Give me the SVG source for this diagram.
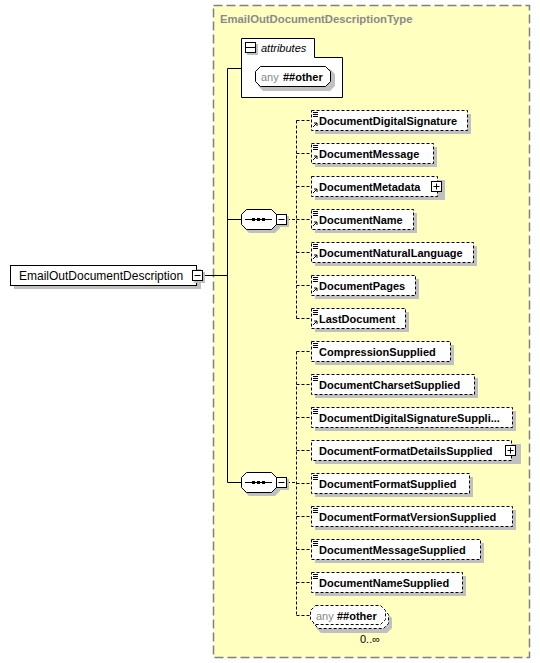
<svg xmlns="http://www.w3.org/2000/svg" width="540" height="663" viewBox="0 0 540 663">
<style>
text{font-family:"Liberation Sans",Arial,sans-serif;font-size:11px;fill:#000}
.b{font-weight:bold}
.g{fill:#888}
.sh{fill:#c0c0c0}
.el{fill:#fff;stroke:#000;stroke-width:1;stroke-dasharray:3,2}
.sol{fill:#fff;stroke:#000;stroke-width:1}
.cn{fill:none;stroke:#000;stroke-width:1}
.cd{fill:none;stroke:#000;stroke-width:1;stroke-dasharray:3,2}
.ic{stroke:#000;stroke-width:1;fill:none}
</style>
<defs>
<g id="lines"><path class="ic" d="M2,2.5h5M2,4.5h5M2,6.5h5"/></g>
<g id="arr"><path class="ic" d="M2,-3L6,-7M3,-7h3v3"/></g>
<g id="minus"><rect class="sh" x="2" y="2" width="11" height="11"/><rect class="sol" x="0.5" y="0.5" width="10" height="10"/><path class="ic" d="M2.5,5.5h6"/></g>
<g id="plus"><rect class="sol" x="0.5" y="0.5" width="10" height="10"/><path class="ic" d="M2.5,5.5h6M5.5,2.5v6"/></g>
</defs>

<!-- type container -->
<g id="type">
<rect x="213.5" y="5.5" width="316" height="652" fill="#ffffc0" stroke="#808080" stroke-width="1.5" stroke-dasharray="9,4"/>
<text x="220" y="23" class="b" style="fill:#8a8a8a;font-size:11.3px">EmailOutDocumentDescriptionType</text>
</g>

<!-- connectors -->
<g id="connectors">
<path class="cn" d="M203,275.5H227.5M227.5,68.5V482.5M227.5,68.5H241M227.5,219.5H241M227.5,482.5H241"/>
<path class="cd" d="M287,219.5H296.5M296.5,120.5V318.5M296.5,120.5H311M296.5,153.5H311M296.5,186.5H311M296.5,252.5H311M296.5,285.5H311M296.5,318.5H311M296.5,219.5H311"/>
<path class="cd" d="M287,482.5H296.5M296.5,351.5V615.5M296.5,351.5H311M296.5,384.5H311M296.5,417.5H311M296.5,450.5H311M296.5,483.5H311M296.5,516.5H311M296.5,549.5H311M296.5,582.5H311M296.5,615.5H310"/>
</g>

<!-- main element -->
<g id="EmailOutDocumentDescription">
<rect class="sh" x="14" y="269" width="187" height="20"/>
<rect class="sol" x="10.5" y="265.5" width="186" height="20"/>
<text x="19" y="280" style="font-size:12px">EmailOutDocumentDescription</text>
<use href="#minus" x="192" y="270"/>
</g>

<!-- attributes -->
<g id="attributes">
<path class="sol" d="M241.5,38.5H314.5V57.5H342.5V97.5H241.5Z"/>
<use href="#minus" x="245" y="42"/>
<path class="ic" d="M246,47.5h10"/>
<text x="261" y="52" font-style="italic">attributes</text>
<path class="sh" d="M263,69H330L335,74V86L330,91H263L258,86V74Z"/>
<path class="sol" d="M260.5,66.5H325.5L330.5,71.5V81.5L325.5,86.5H260.5L255.5,81.5V71.5Z"/>
<text x="261" y="80.5" class="g" style="fill:#888">any</text>
<text x="283" y="80.5" class="b">##other</text>
</g>

<!-- sequence 1 -->
<g id="seq1">
<path class="sh" d="M249,213H275L280,218V228L275,233H249L244,228V218Z"/>
<path class="sol" d="M246.5,209.5H271.5L276.5,214.5V224.5L271.5,229.5H246.5L241.5,224.5V214.5Z"/>
<path class="ic" d="M245,219.5H272"/>
<rect x="252" y="218" width="3" height="3"/><rect x="257" y="218" width="3" height="3"/><rect x="262" y="218" width="3" height="3"/>
<use href="#minus" x="276" y="214"/>
</g>

<!-- sequence 2 -->
<g id="seq2">
<path class="sh" d="M249,476H275L280,481V491L275,496H249L244,491V481Z"/>
<path class="sol" d="M246.5,472.5H271.5L276.5,477.5V487.5L271.5,492.5H246.5L241.5,487.5V477.5Z"/>
<path class="ic" d="M245,482.5H272"/>
<rect x="252" y="481" width="3" height="3"/><rect x="257" y="481" width="3" height="3"/><rect x="262" y="481" width="3" height="3"/>
<use href="#minus" x="276" y="477"/>
</g>

<!-- group 1 elements -->
<g id="DocumentDigitalSignature">
<rect class="sh" x="315" y="114" width="156" height="20"/>
<rect class="el" x="311.5" y="110.5" width="156" height="20"/>
<use href="#lines" x="311" y="110"/><use href="#arr" x="311" y="130"/>
<text x="319" y="124.5" class="b">DocumentDigitalSignature</text>
</g>
<g id="DocumentMessage">
<rect class="sh" x="315" y="147" width="122" height="20"/>
<rect class="el" x="311.5" y="143.5" width="122" height="20"/>
<use href="#lines" x="311" y="143"/><use href="#arr" x="311" y="163"/>
<text x="319" y="157.5" class="b">DocumentMessage</text>
</g>
<g id="DocumentMetadata">
<rect class="sh" x="315" y="180" width="130" height="20"/>
<rect class="el" x="311.5" y="176.5" width="126" height="20"/>
<use href="#arr" x="311" y="196"/>
<text x="319" y="190.5" class="b">DocumentMetadata</text>
<use href="#plus" x="431" y="181"/>
</g>
<g id="DocumentName">
<rect class="sh" x="315" y="213" width="102" height="20"/>
<rect class="el" x="311.5" y="209.5" width="102" height="20"/>
<use href="#lines" x="311" y="209"/><use href="#arr" x="311" y="229"/>
<text x="319" y="223.5" class="b">DocumentName</text>
</g>
<g id="DocumentNaturalLanguage">
<rect class="sh" x="315" y="246" width="162" height="20"/>
<rect class="el" x="311.5" y="242.5" width="162" height="20"/>
<use href="#lines" x="311" y="242"/><use href="#arr" x="311" y="262"/>
<text x="319" y="256.5" class="b">DocumentNaturalLanguage</text>
</g>
<g id="DocumentPages">
<rect class="sh" x="315" y="279" width="104" height="20"/>
<rect class="el" x="311.5" y="275.5" width="104" height="20"/>
<use href="#lines" x="311" y="275"/><use href="#arr" x="311" y="295"/>
<text x="319" y="289.5" class="b">DocumentPages</text>
</g>
<g id="LastDocument">
<rect class="sh" x="315" y="312" width="94" height="20"/>
<rect class="el" x="311.5" y="308.5" width="94" height="20"/>
<use href="#lines" x="311" y="308"/><use href="#arr" x="311" y="328"/>
<text x="319" y="322.5" class="b">LastDocument</text>
</g>

<!-- group 2 elements -->
<g id="CompressionSupplied">
<rect class="sh" x="315" y="345" width="139" height="20"/>
<rect class="el" x="311.5" y="341.5" width="139" height="20"/>
<use href="#lines" x="311" y="341"/>
<text x="319" y="355.5" class="b">CompressionSupplied</text>
</g>
<g id="DocumentCharsetSupplied">
<rect class="sh" x="315" y="378" width="163" height="20"/>
<rect class="el" x="311.5" y="374.5" width="163" height="20"/>
<use href="#lines" x="311" y="374"/>
<text x="319" y="388.5" class="b">DocumentCharsetSupplied</text>
</g>
<g id="DocumentDigitalSignatureSupplied">
<rect class="sh" x="315" y="411" width="201" height="20"/>
<rect class="el" x="311.5" y="407.5" width="201" height="20"/>
<use href="#lines" x="311" y="407"/>
<text x="319" y="421.5" class="b">DocumentDigitalSignatureSuppli...</text>
</g>
<g id="DocumentFormatDetailsSupplied">
<rect class="sh" x="315" y="444" width="206" height="20"/>
<rect class="el" x="311.5" y="440.5" width="200" height="20"/>
<text x="319" y="454.5" class="b">DocumentFormatDetailsSupplied</text>
<use href="#plus" x="505" y="445"/>
</g>
<g id="DocumentFormatSupplied">
<rect class="sh" x="315" y="477" width="158" height="20"/>
<rect class="el" x="311.5" y="473.5" width="158" height="20"/>
<use href="#lines" x="311" y="473"/>
<text x="319" y="487.5" class="b">DocumentFormatSupplied</text>
</g>
<g id="DocumentFormatVersionSupplied">
<rect class="sh" x="315" y="510" width="201" height="20"/>
<rect class="el" x="311.5" y="506.5" width="201" height="20"/>
<use href="#lines" x="311" y="506"/>
<text x="319" y="520.5" class="b">DocumentFormatVersionSupplied</text>
</g>
<g id="DocumentMessageSupplied">
<rect class="sh" x="315" y="543" width="169" height="20"/>
<rect class="el" x="311.5" y="539.5" width="169" height="20"/>
<use href="#lines" x="311" y="539"/>
<text x="319" y="553.5" class="b">DocumentMessageSupplied</text>
</g>
<g id="DocumentNameSupplied">
<rect class="sh" x="315" y="576" width="151" height="20"/>
<rect class="el" x="311.5" y="572.5" width="151" height="20"/>
<use href="#lines" x="311" y="572"/>
<text x="319" y="586.5" class="b">DocumentNameSupplied</text>
</g>
<g id="anyOther">
<path class="sh" d="M321,613H387L392,618V628L387,633H321L316,628V618Z"/>
<path class="el" d="M318.5,609.5H383.5L388.5,614.5V623.5L383.5,628.5H318.5L313.5,623.5V614.5Z"/>
<path class="el" d="M315.5,605.5H380.5L385.5,610.5V619.5L380.5,624.5H315.5L310.5,619.5V610.5Z"/>
<text x="316" y="619.5" class="g" style="fill:#888">any</text>
<text x="337" y="619.5" class="b">##other</text>
<text x="360" y="643">0..∞</text>
</g>
</svg>
